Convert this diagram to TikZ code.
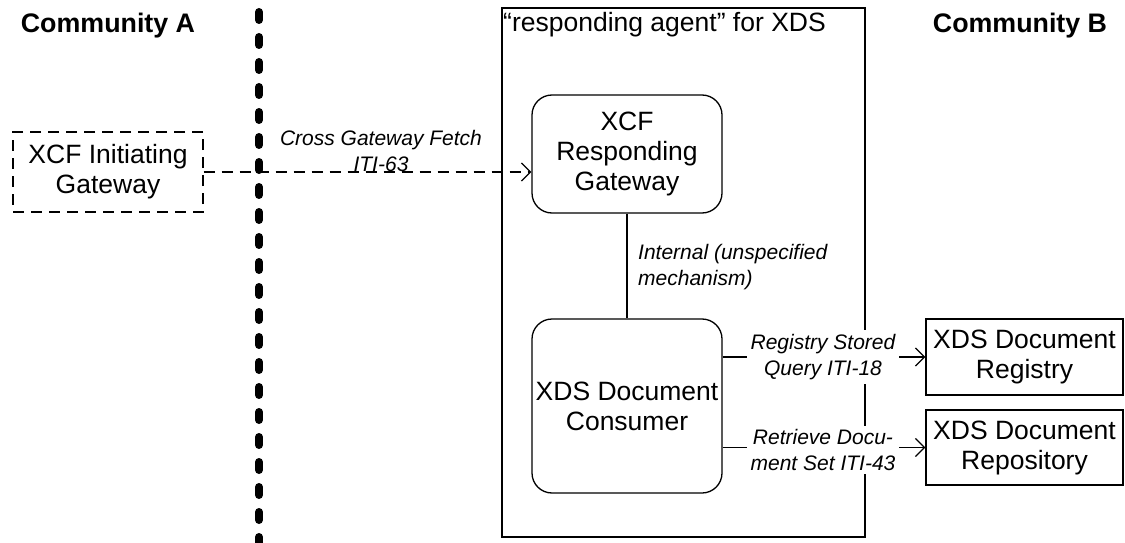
\documentclass[tikz,border=0pt]{standalone}
\usepackage{fontspec}
\setmainfont{Liberation Sans}
\usetikzlibrary{arrows.meta}
\newcommand\ndfont{\fontsize{26.5}{30}\selectfont}
\newcommand\lbfont{\fontsize{21}{25.5}\selectfont\itshape}
\newcommand\cmfont{\fontsize{26.8}{30}\selectfont\bfseries}
\begin{document}
\begin{tikzpicture}[x=1pt,y=-1pt,
  actor/.style={draw, line width=1.3pt, align=center, inner sep=0pt, font=\ndfont},
  rbox/.style={actor, rounded corners=20pt},
  lbl/.style={font=\lbfont, align=center, inner sep=0pt},
  conn/.style={line width=1.3pt},
  arr/.style={conn, -{Straight Barb[length=9pt,width=18pt]}},
  dsh/.style={dash pattern=on 11pt off 7pt},
  comm/.style={font=\cmfont, anchor=base, inner sep=0pt}]
\useasboundingbox (0,0) rectangle (1125,543);
% community labels
\node[comm] (ca) at (108,33) {Community A};
\node[comm] (cb) at (1020,33) {Community B};
% responding agent container
\node[draw, line width=1.3pt, minimum width=363pt, minimum height=529pt, inner sep=0pt] (agent) at (683.5,272.5) {};
\node[anchor=base west, font=\ndfont, inner sep=0pt] (title) at (503,32) {“responding agent” for XDS};
% actors
\node[actor, dsh, minimum width=190pt, minimum height=80pt] (init) at (108,172) {XCF Initiating\\Gateway};
\node[rbox, minimum width=190pt, minimum height=118pt] (gw) at (627,154) {XCF\\Responding\\Gateway};
\node[rbox, minimum width=190pt, minimum height=174pt] (cons) at (627,406) {XDS Document\\Consumer};
\node[actor, minimum width=197pt, minimum height=76pt] (reg) at (1024.5,357) {XDS Document\\Registry};
\node[actor, minimum width=197pt, minimum height=75pt] (rep) at (1024.5,447.5) {XDS Document\\Repository};
% connectors
\draw[arr, dsh] (init.east) -- (init.east -| gw.west);
\draw[conn] (gw.south) -- (cons.north);
\draw[arr] (cons.east |- reg.west) -- (reg.west);
\draw[arr] (cons.east |- rep.west) -- (rep.west);
% labels
\node[lbl] (lx) at (381,151) {Cross Gateway Fetch\\ITI-63};
\node[lbl, align=left, anchor=west] (li) at (638,267) {Internal (unspecified\\mechanism)};
\node[lbl, fill=white, inner sep=4pt] (lr) at (823,357) {Registry Stored\\Query ITI-18};
\node[lbl, fill=white, inner sep=4pt] (lt) at (823,450) {Retrieve Docu-\\ment Set ITI-43};
% community boundary
\coordinate (dtop) at (259,12);
\coordinate (dbot) at (259,543);
\draw[line width=8pt, line cap=round, dash pattern=on 8pt off 17pt] (dtop) -- (dbot);
\end{tikzpicture}
\end{document}
